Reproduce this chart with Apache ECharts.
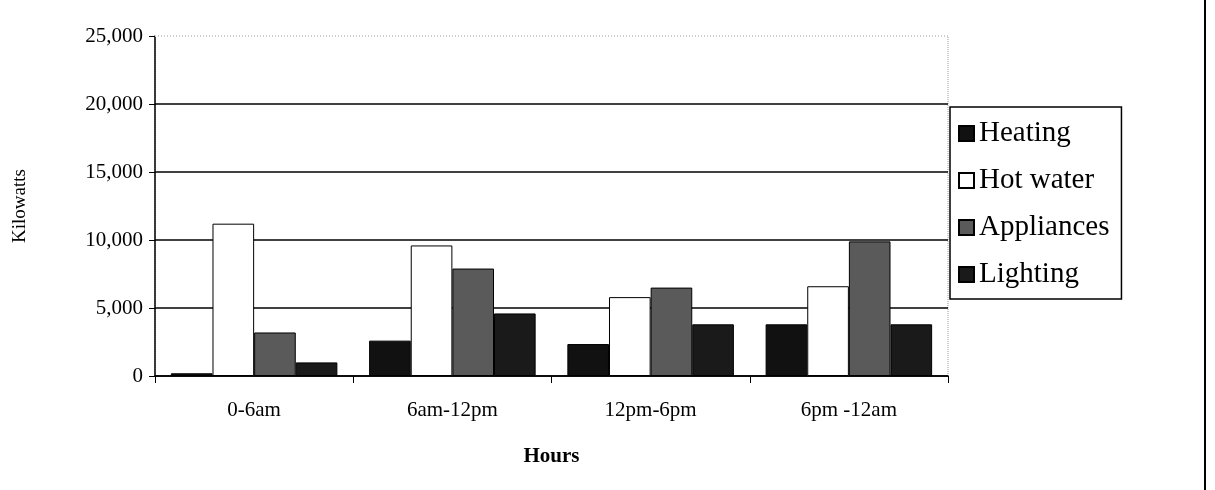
<!DOCTYPE html><html><head><meta charset="utf-8">
<script src="https://cdn.jsdelivr.net/npm/echarts@6/dist/echarts.min.js"></script>
<style>html,body{margin:0;padding:0;background:#fff}#c{width:1215px;height:490px}</style></head><body><div id="c"></div>
<script>
const categories=['0-6am','6am-12pm','12pm-6pm','6pm -12am'];
const heating=[200,2600,2350,3800];
const hotWater=[11200,9600,5800,6600];
const appliances=[3200,7900,6500,9900];
const lighting=[1000,4600,3800,3800];
const yTicks=[0,5000,10000,15000,20000];
const F='Liberation Serif';
const ch=echarts.init(document.getElementById('c'));
function s(name,data,color){return {name,type:'bar',data,barWidth:'21%',barGap:'0%',barCategoryGap:'16%',
 itemStyle:{color,borderColor:'#000',borderWidth:1}};}
ch.setOption({
 animation:false,
 textStyle:{fontFamily:F},
 grid:{left:155,right:267,top:36,bottom:114,show:true,borderColor:'#999',borderWidth:1,borderType:'dotted'},
 legend:{orient:'vertical',left:950,top:107,padding:[12,12,10,8],itemGap:18,borderColor:'#000',borderWidth:1.5,
  icon:'rect',itemWidth:15,itemHeight:15,textStyle:{fontFamily:F,fontSize:29,color:'#000'},
  data:['Heating','Hot water','Appliances','Lighting']},
 xAxis:{type:'category',data:categories,name:'Hours',nameLocation:'middle',nameGap:70,
  nameTextStyle:{fontFamily:F,fontSize:21,fontWeight:'bold',color:'#000'},
  axisLine:{lineStyle:{color:'#000',width:1.5}},axisTick:{show:true,length:7,lineStyle:{color:'#000'}},
  axisLabel:{fontFamily:F,fontSize:21,color:'#000',margin:24}},
 yAxis:{type:'value',min:0,max:25000,interval:5000,name:'Kilowatts',nameLocation:'middle',nameGap:125,
  nameTextStyle:{fontFamily:F,fontSize:19,color:'#000'},
  axisLine:{show:true,lineStyle:{color:'#000',width:1.5}},axisTick:{show:true,length:6,lineStyle:{color:'#000'}},
  axisLabel:{fontFamily:F,fontSize:21,color:'#000',margin:12,formatter:v=>v.toLocaleString('en-US')},
  splitLine:{lineStyle:{color:'#000',width:1.5}}},
 series:[s('Heating',heating,'#111'),s('Hot water',hotWater,'#fff'),s('Appliances',appliances,'#5a5a5a'),s('Lighting',lighting,'#1a1a1a')],
 graphic:[{type:'line',shape:{x1:1205,y1:0,x2:1205,y2:490},style:{stroke:'#000',lineWidth:2}},
  {type:'line',shape:{x1:155,y1:36,x2:948,y2:36},z:100,style:{stroke:'#fff',lineWidth:2}},
  {type:'line',shape:{x1:155,y1:36,x2:948,y2:36},z:101,style:{stroke:'#999',lineWidth:1,lineDash:[1,2]}}]
});
</script></body></html>
